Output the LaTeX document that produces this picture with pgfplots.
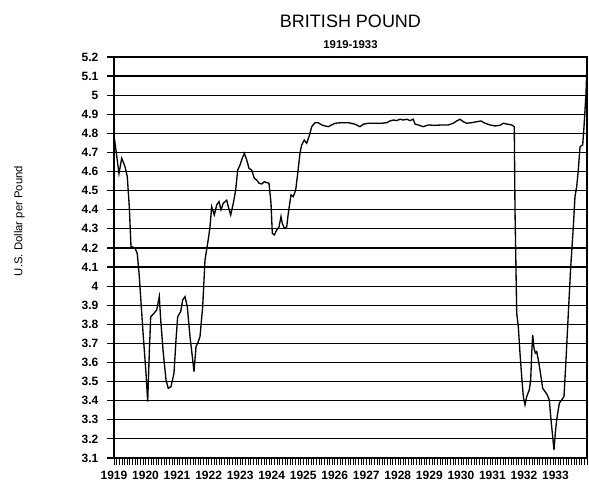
\documentclass[border=0pt]{standalone}
\usepackage{fontspec}
\setmainfont{Liberation Sans}
\usepackage{pgfplots}
\pgfplotsset{compat=1.18}

% x is months since Jan 1919
\pgfplotstableread{
m v
0.2 4.77
1.90 4.59
2.93 4.67
4.19 4.626
5.06 4.573
5.82 4.416
6.47 4.207
7.99 4.20
8.87 4.17
9.63 4.05
11.15 3.736
12.18 3.544
12.82 3.395
13.43 3.649
13.97 3.84
15.22 3.858
16.25 3.875
17.24 3.945
17.77 3.823
18.76 3.649
19.79 3.509
20.66 3.465
21.69 3.474
22.83 3.544
23.59 3.718
24.24 3.84
25.38 3.867
26.14 3.928
27.02 3.945
27.89 3.893
28.92 3.736
29.95 3.614
30.44 3.552
31.21 3.683
32.08 3.709
32.73 3.736
33.75 3.893
34.63 4.137
35.66 4.225
36.53 4.31
37.18 4.416
38.17 4.373
39.08 4.425
39.96 4.443
40.72 4.40
41.59 4.434
42.89 4.45
43.50 4.416
44.41 4.373
45.40 4.434
46.31 4.504
47.07 4.608
47.95 4.634
48.82 4.67
49.59 4.696
50.50 4.661
51.37 4.617
52.40 4.608
53.39 4.565
54.30 4.556
55.18 4.539
56.21 4.535
57.20 4.547
58.11 4.542
58.99 4.539
59.75 4.434
60.24 4.277
61.00 4.268
61.92 4.294
62.79 4.31
63.55 4.364
64.05 4.329
64.81 4.303
65.72 4.31
66.33 4.382
67.36 4.478
68.23 4.469
69.15 4.504
69.91 4.59
70.78 4.696
71.43 4.74
72.42 4.765
73.33 4.748
74.21 4.783
75.24 4.835
76.49 4.856
77.75 4.856
79.04 4.844
80.30 4.839
81.55 4.835
82.85 4.844
84.10 4.853
86.65 4.856
89.16 4.856
91.71 4.848
93.62 4.835
94.87 4.848
96.77 4.853
99.32 4.853
101.87 4.853
103.78 4.856
105.03 4.865
106.29 4.87
107.58 4.867
108.84 4.874
110.09 4.87
111.39 4.874
112.64 4.867
113.90 4.874
114.55 4.849
115.80 4.844
117.71 4.835
119.61 4.844
122.16 4.842
124.71 4.844
127.22 4.844
129.12 4.853
130.42 4.865
131.67 4.874
132.93 4.861
134.22 4.853
136.12 4.856
138.03 4.861
139.66 4.865
141.18 4.853
143.09 4.844
144.99 4.839
146.89 4.842
148.15 4.853
149.44 4.849
151.34 4.844
152.33 4.835
152.60 4.40
153.25 3.858
153.86 3.788
154.50 3.649
155.15 3.526
155.76 3.422
156.41 3.378
157.05 3.422
158.04 3.457
158.58 3.509
158.96 3.649
159.34 3.745
159.83 3.675
160.33 3.649
160.86 3.657
161.47 3.614
162.11 3.561
163.14 3.465
164.02 3.448
164.89 3.43
165.65 3.404
166.30 3.30
166.94 3.212
167.44 3.142
167.94 3.23
168.47 3.30
169.46 3.387
170.37 3.404
171.25 3.422
172.01 3.614
172.89 3.858
173.80 4.10
174.79 4.31
175.43 4.469
176.08 4.521
176.69 4.608
177.34 4.73
178.36 4.74
178.86 4.835
179.62 5.01
179.88 5.115
}\pound

\begin{document}
\begin{tikzpicture}
\begin{axis}[
    scale only axis,
    width=354.75pt, height=300.75pt,
    xmin=0, xmax=180,
    ymin=3.1, ymax=5.2,
    xtick={0,12,...,168},
    xticklabels={1919,1920,1921,1922,1923,1924,1925,1926,1927,1928,1929,1930,1931,1932,1933},
    minor xtick={0,1,...,180},
    ytick={3.1,3.2,3.3,3.4,3.5,3.6,3.7,3.8,3.9,4.0,4.1,4.2,4.3,4.4,4.5,4.6,4.7,4.8,4.9,5.0,5.1,5.2},
    tick pos=left,
    tick align=outside,
    major tick length=5.25pt,
    minor tick length=5.25pt,
    xtick style={black, line width=0.4pt},
    ytick style={black, line width=0.9pt},
    x axis line style={line width=1pt},
    ymajorgrids=true,
    major grid style={black, line width=0.9pt},
    axis line style={black},
    tick label style={font=\fontsize{9}{10}\selectfont\bfseries},
    /pgf/number format/assume math mode=true,
    yticklabel style={xshift=-3pt},
    xticklabel style={yshift=-1pt},
    clip=false,
]
\addplot[black, line width=1pt, mark=none] table[x=m, y=v] {\pound};

\node[font=\fontsize{13.5}{15}\selectfont] at ([yshift=27pt]rel axis cs:0.5,1) {BRITISH POUND};
\node[font=\fontsize{8.5}{10}\selectfont\bfseries] at ([yshift=9pt]rel axis cs:0.5,1) {1919-1933};
\node[rotate=90, font=\fontsize{8.5}{10}\selectfont] at ([xshift=-70.9pt, yshift=177.75pt]rel axis cs:0,0) {U.S. Dollar per Pound};
\end{axis}
\path ([xshift=-85.5pt, yshift=-21.75pt]current axis.south west) rectangle ([xshift=1.5pt, yshift=42.75pt]current axis.north east);
\end{tikzpicture}
\end{document}
